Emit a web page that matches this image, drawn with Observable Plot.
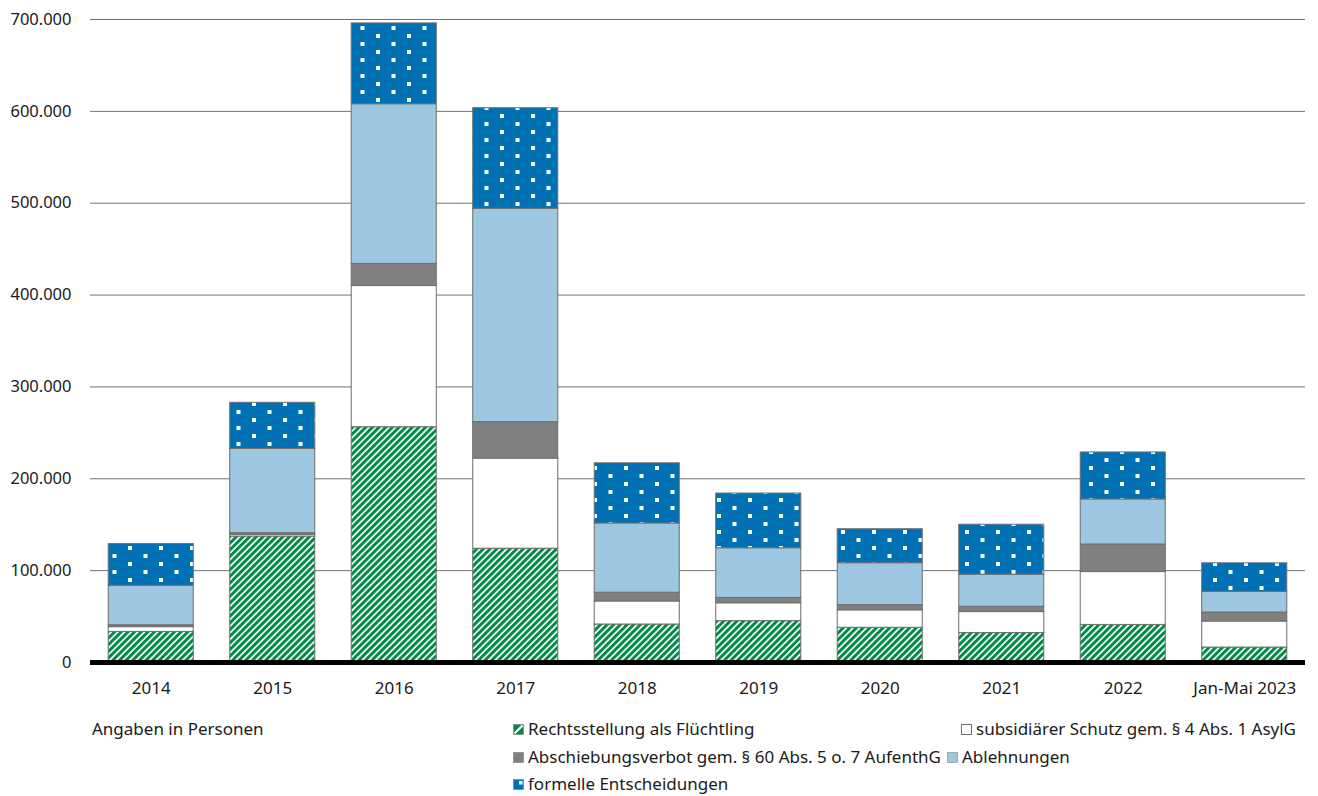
<!DOCTYPE html>
<html>
<head>
<meta charset="utf-8">
<script src="https://cdn.jsdelivr.net/npm/d3@7"></script>
<script src="https://cdn.jsdelivr.net/npm/@observablehq/plot@0.6"></script>
<style>
  html, body { margin: 0; padding: 0; background: #fff; }
  #wrap { position: relative; width: 1318px; height: 796px; font-family: "Noto Sans", sans-serif; color: #1a1a1a; font-size: 17px; }
  #chart { position: absolute; left: 0; top: 0; }
  .lg { position: absolute; white-space: nowrap; line-height: 20px; height: 20px; display: flex; align-items: center; }
  .lg svg { margin-right: 4px; flex: none; }
</style>
</head>
<body>
<div id="wrap">
  <div id="chart"></div>
  <div id="legend"></div>
</div>
<script>
// ---- data ----
const years = ["2014", "2015", "2016", "2017", "2018", "2019", "2020", "2021", "2022", "Jan-Mai 2023"];
const series = [
  "Rechtsstellung als Flüchtling",
  "subsidiärer Schutz gem. § 4 Abs. 1 AsylG",
  "Abschiebungsverbot gem. § 60 Abs. 5 o. 7 AufenthG",
  "Ablehnungen",
  "formelle Entscheidungen"
];
const fluechtling      = [33310, 137136, 256136, 123909, 41368, 45053, 37818, 32065, 40911, 16300];
const subsidiaer       = [5174, 1707, 153700, 98074, 25055, 19419, 18950, 22836, 57532, 28300];
const abschiebung      = [2079, 2072, 24084, 39659, 9548, 5857, 5702, 5805, 30020, 9800];
const ablehnungen      = [43018, 91514, 173846, 232307, 75395, 54034, 45608, 34921, 49044, 22600];
const formelle         = [45330, 50297, 87967, 109479, 65507, 59591, 36993, 54327, 51166, 31000];
const yTicks = [0, 100000, 200000, 300000, 400000, 500000, 600000, 700000];
const gridTicks = [100000, 200000, 300000, 400000, 500000, 600000, 700000];

const valuesBySeries = [fluechtling, subsidiaer, abschiebung, ablehnungen, formelle];
const data = years.flatMap((y, i) => series.map((s, j) => ({year: y, series: s, value: valuesBySeries[j][i]})));

const fills = ["url(#hatch)", "#ffffff", "#808080", "#9dc7e1", "url(#dots)"];
const fmt = d => d3.format(",")(d).replace(/,/g, ".");

const chart = Plot.plot({
  width: 1318,
  height: 700,
  marginTop: 19,
  marginBottom: 38,
  marginLeft: 90,
  marginRight: 13,
  style: {fontFamily: "Noto Sans, sans-serif", fontSize: "16px", color: "#1a1a1a", background: "transparent"},
  x: {domain: years, paddingInner: 0.3, paddingOuter: 0.15, round: false, label: null},
  y: {domain: [0, 700000], label: null},
  color: {domain: series, range: fills},
  marks: [
    Plot.ruleY(gridTicks, {stroke: "#707070", strokeWidth: 1}),
    Plot.barY(data, {x: "year", y: "value", fill: "series", stroke: "#6e6e6e", strokeWidth: 1}),
    Plot.ruleY([0], {stroke: "#000", strokeWidth: 5}),
    Plot.axisY(yTicks, {tickSize: 0, tickPadding: 19, tickFormat: fmt, fontSize: 16.5, label: null}),
    Plot.axisX({tickSize: 0, tickPadding: 19, fontSize: 17, label: null})
  ]
});

// patterns
const svg = d3.select(chart.tagName.toLowerCase() === "svg" ? chart : chart.querySelector("svg"));
const defs = svg.insert("defs", ":first-child");
const hatch = defs.append("pattern").attr("id", "hatch").attr("patternUnits", "userSpaceOnUse")
  .attr("width", 4.7).attr("height", 4.7).attr("patternTransform", "rotate(45)");
hatch.append("rect").attr("width", 4.7).attr("height", 4.7).attr("fill", "#fff");
hatch.append("rect").attr("width", 3.0).attr("height", 4.7).attr("fill", "#008a47");
const dots = defs.append("pattern").attr("id", "dots").attr("patternUnits", "userSpaceOnUse")
  .attr("width", 31).attr("height", 16).attr("x", 3).attr("y", 0);
dots.append("rect").attr("width", 31).attr("height", 16).attr("fill", "#0071b5");
dots.append("rect").attr("x", 1).attr("y", 2).attr("width", 4).attr("height", 4).attr("fill", "#fff");
dots.append("rect").attr("x", 16.5).attr("y", 10).attr("width", 4).attr("height", 4).attr("fill", "#fff");

document.getElementById("chart").appendChild(chart);

// legend
const legend = document.getElementById("legend");
function swatch(i) {
  const ns = "http://www.w3.org/2000/svg";
  const s = document.createElementNS(ns, "svg");
  s.setAttribute("width", 11); s.setAttribute("height", 11);
  let inner = "";
  if (i === 0) inner = '<rect x="0.5" y="0.5" width="10" height="10" fill="#008a47" stroke="#6e6e6e" stroke-width="0.5"/><path d="M1.5,9.5 L9.5,1.5" stroke="#fff" stroke-width="2.2"/>';
  if (i === 1) inner = '<rect x="0.5" y="0.5" width="10" height="10" fill="#fff" stroke="#6e6e6e" stroke-width="1"/>';
  if (i === 2) inner = '<rect x="0.5" y="0.5" width="10" height="10" fill="#808080" stroke="#6e6e6e" stroke-width="0.5"/>';
  if (i === 3) inner = '<rect x="0.5" y="0.5" width="10" height="10" fill="#9dc7e1" stroke="#6e6e6e" stroke-width="0.5"/>';
  if (i === 4) inner = '<rect x="0.5" y="0.5" width="10" height="10" fill="#0071b5" stroke="#6e6e6e" stroke-width="0.5"/><rect x="6" y="2" width="3.5" height="3.5" fill="#fff"/>';
  s.innerHTML = inner;
  return s;
}
const note = document.createElement("div");
note.className = "lg"; note.style.left = "92px"; note.style.top = "719px";
note.textContent = "Angaben in Personen";
legend.appendChild(note);
const pos = [[513, 719], [961, 719], [513, 747], [947, 747], [513, 774]];
series.forEach((s, i) => {
  const d = document.createElement("div");
  d.className = "lg";
  d.style.left = pos[i][0] + "px"; d.style.top = pos[i][1] + "px";
  d.appendChild(swatch(i));
  const t = document.createElement("span"); t.textContent = s;
  d.appendChild(t);
  legend.appendChild(d);
});
</script>
</body>
</html>
